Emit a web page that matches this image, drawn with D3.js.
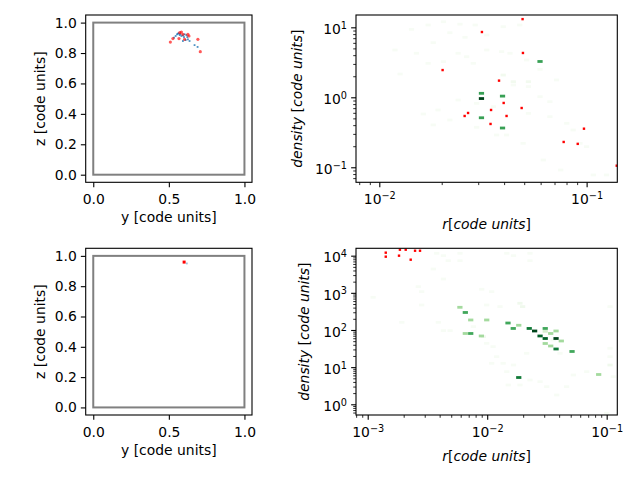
<!DOCTYPE html>
<html>
<head>
<meta charset="utf-8">
<script src="https://cdn.jsdelivr.net/npm/d3@7"></script>
<style>
  body { margin: 0; background: #fff; }
  svg { font-family: "DejaVu Sans", sans-serif; }
</style>
</head>
<body>
<svg width="640" height="480"></svg>
<script>
// ---- data ----

// top-left: projected positions (y, z)
const topBlue = [[0.545,0.912],[0.554,0.923],[0.560,0.927],[0.572,0.918],[0.583,0.912],[0.593,0.916],
  [0.604,0.923],[0.616,0.918],[0.622,0.905],[0.626,0.890],[0.637,0.879],[0.593,0.879],[0.611,0.885],
  [0.670,0.852],[0.534,0.901],[0.575,0.925],[0.565,0.930],[0.600,0.905],[0.690,0.840]];
const topRed = [[0.510,0.872],[0.527,0.895],[0.572,0.934],[0.583,0.938],[0.593,0.923],[0.567,0.895],
  [0.604,0.890],[0.626,0.923],[0.633,0.912],[0.692,0.890],[0.708,0.809]];

// bottom-left
const botBlue = [[0.619,0.950]];
const botRed = [[0.601,0.959]];

// top-right: histogram cells [r, density, count] and red points [r, density]
const topCells = [
  [0.0172,10.8,1],[0.0204,12.0,1],[0.0245,11.1,1],[0.0290,10.8,1],[0.0143,9.36,1],[0.0119,4.74,1],
  [0.0151,4.26,1],[0.0182,6.03,1],[0.0219,8.37,1],[0.0259,7.20,1],[0.0330,7.76,1],[0.0396,10.2,1],
  [0.0476,10.8,1],[0.0126,2.15,1],[0.0172,3.06,1],[0.0204,3.23,1],[0.0240,4.26,1],[0.0264,3.80,1],
  [0.0284,3.06,1],[0.0330,4.74,1],[0.0389,4.49,1],[0.0427,4.26,1],[0.0514,3.41,1],[0.0596,2.51,1],
  [0.0716,1.77,1],[0.0163,0.577,1],[0.0192,0.659,1],[0.0219,0.474,1],[0.0240,0.914,1],[0.0295,0.820,1],
  [0.0355,0.735,1],[0.0443,1.50,1],[0.0524,1.42,1],[0.0596,1.02,1],[0.0665,0.865,1],[0.0524,0.590,1],
  [0.0665,0.528,1],[0.0802,0.425,1],[0.0861,0.341,1],[0.0929,0.220,1],[0.1000,0.197,1],[0.1077,0.0777,1],
  [0.1247,0.0777,1],[0.0750,0.0914,1],[0.0618,0.127,1],[0.0494,0.220,1],[0.0411,0.289,1],[0.0368,0.289,1],
  [0.0295,0.373,1],[0.0182,0.403,1],[0.0443,1.67,1.3],[0.0524,1.67,1.3],[0.0396,2.08,1.3],
  [0.0311,1.14,7],[0.0311,0.51,7],[0.0393,1.04,7],[0.0393,0.364,7],[0.0596,3.25,7],[0.0311,0.96,10]
];
const topRedPts = [[0.0491,13.1],[0.03126,8.57],[0.0493,4.30],[0.0202,2.45],[0.0378,1.73],[0.0398,0.830],
  [0.0346,0.659],[0.0486,0.703],[0.0268,0.597],[0.0258,0.541],[0.0411,0.541],[0.0344,0.416],
  [0.0971,0.356],[0.0775,0.230],[0.0906,0.216],[0.1397,0.1054]];

// bottom-right
const botCells = [
  [0.00378,11600,1],[0.00430,10000,1],[0.00472,7330,1],[0.00592,11600,1],[0.00592,7330,1],[0.0146,11600,1],
  [0.0166,10000,1],[0.0228,11600,1],[0.0228,7330,1],[0.00354,4380,1],[0.00430,2360,1],[0.00265,1466,1],
  [0.00283,1075,1],[0.00283,471,1],[0.00193,161,1],[0.00390,161,1],[0.00111,759,1],[0.00430,95.9,1],
  [0.00489,95.9,1],[0.00900,1247,1],[0.0109,1075,1],[0.00990,471,1],[0.0128,425,1],[0.0188,524,1.5],
  [0.0198,425,1.5],[0.00766,123,1],[0.00990,43.8,1],[0.0112,35.6,1],[0.00927,66.1,1.5],[0.0120,19.1,1],
  [0.0136,12.7,1],[0.0166,11.4,1],[0.0109,12.7,1],[0.0146,7.55,1],[0.0150,3.31,1],[0.0188,3.31,1],
  [0.0228,4.51,1],[0.0277,4.06,1],[0.0315,2.98,1],[0.0382,1.78,1],[0.0462,2.98,1],[0.0526,6.15,1],
  [0.0681,7.55,1],[0.1067,425,1],[0.1067,32.2,1],[0.1067,19.1,1],[0.1067,11.4,1.5],[0.1135,5.53,1],
  [0.1000,0.573,1],[0.0214,23.6,1],[0.0357,53.8,1],[0.0407,23.6,1],
  [0.00591,408,5],[0.00656,296,8],[0.00728,186,5],[0.00991,186,5],[0.01493,154,8],[0.01837,134,5],
  [0.01652,110,8],[0.02249,110,10],[0.02494,94,12],[0.0306,92,3],[0.0306,110,8],[0.0340,80.5,5],
  [0.0377,94,5],[0.0277,69,11],[0.0306,59,11],[0.0377,59,12],[0.0417,50.6,5],[0.0306,43.3,5],
  [0.0340,37.1,5],[0.0377,30.8,10],[0.0513,26.4,8],[0.00656,80.5,5],[0.00728,80.5,8],[0.00894,69,5],
  [0.01837,5.26,10],[0.0857,6.34,5]
];
const botRedPts = [[0.001416,12050],[0.001416,9400],[0.001828,10000],[0.00186,14500],[0.00208,14500],
  [0.00229,7800],[0.00249,13600],[0.00274,13600]];

const linTicksX = [0, 0.5, 1];
const linTicksY = [0, 0.2, 0.4, 0.6, 0.8, 1.0];

// ---- drawing ----
const svg = d3.select("svg");
const FS = 13.9, TICK = 4.86, MINOR = 2.78;

function frame(g, w, h) {
  g.append("rect").attr("width", w).attr("height", h)
    .attr("fill", "none").attr("stroke", "#000").attr("stroke-width", 1.1);
}

function styleAxis(sel) {
  sel.select(".domain").remove();
  sel.selectAll(".tick line").attr("stroke", "#000").attr("stroke-width", 1.1);
  sel.selectAll(".tick text").attr("fill", "#000").attr("font-size", FS)
    .attr("font-family", "DejaVu Sans");
}

function linPanel(box, blue, red, redSolid, xlabY) {
  const w = box.x1 - box.x0, h = box.y1 - box.y0;
  const g = svg.append("g").attr("transform", `translate(${box.x0},${box.y0})`);
  const x = d3.scaleLinear().domain([-0.05, 1.05]).range([0, w]);
  const y = d3.scaleLinear().domain([-0.05, 1.05]).range([h, 0]);

  g.append("rect").attr("x", x(0)).attr("y", y(1))
    .attr("width", x(1) - x(0)).attr("height", y(0) - y(1))
    .attr("fill", "none").attr("stroke", "#808080").attr("stroke-width", 2);

  g.selectAll(".b").data(blue).enter().append("rect")
    .attr("x", d => x(d[0]) - 0.9).attr("y", d => y(d[1]) - 0.9)
    .attr("width", 1.8).attr("height", 1.8).attr("fill", "#1f77b4")
    .attr("opacity", redSolid ? 0.45 : 0.8);
  if (redSolid) {
    g.selectAll(".r").data(red).enter().append("rect")
      .attr("x", d => x(d[0]) - 1.5).attr("y", d => y(d[1]) - 1.5)
      .attr("width", 3).attr("height", 3).attr("fill", "#ff0000");
  } else {
    g.selectAll(".r").data(red).enter().append("circle")
      .attr("cx", d => x(d[0])).attr("cy", d => y(d[1])).attr("r", 1.6)
      .attr("fill", "#ff0000").attr("opacity", 0.65);
  }

  const ax = g.append("g").attr("transform", `translate(0,${h})`)
    .call(d3.axisBottom(x).tickValues(linTicksX).tickSize(TICK).tickPadding(7.3).tickFormat(d3.format(".1f")));
  styleAxis(ax);
  const ay = g.append("g")
    .call(d3.axisLeft(y).tickValues(linTicksY).tickSize(TICK).tickPadding(4.1).tickFormat(d3.format(".1f")));
  styleAxis(ay);
  frame(g, w, h);

  svg.append("text").attr("x", box.x0 + w / 2).attr("y", xlabY).attr("text-anchor", "middle")
    .attr("font-size", FS).text("y [code units]");
  svg.append("text").attr("transform", `translate(44.5,${box.y0 + h / 2}) rotate(-90)`)
    .attr("text-anchor", "middle").attr("font-size", FS).text("z [code units]");
}

function minorTicks(dom) {
  const out = [];
  const lo = Math.floor(Math.log10(dom[0])), hi = Math.ceil(Math.log10(dom[1]));
  for (let e = lo; e <= hi; e++)
    for (let k = 2; k <= 9; k++) {
      const v = k * Math.pow(10, e);
      if (v >= dom[0] && v <= dom[1]) out.push(v);
    }
  return out;
}

function powLabels(sel, dy) {
  sel.selectAll(".tick text").each(function(d) {
    const t = d3.select(this), e = Math.round(Math.log10(d));
    t.text(null).attr("dy", dy);
    t.append("tspan").text("10");
    t.append("tspan").attr("dy", "-0.55em").attr("font-size", FS * 0.7)
      .text(e < 0 ? "\u2212" + (-e) : String(e));
  });
}

function logPanel(box, xDom, yDom, xMaj, yMaj, cells, reds, cmax, ylabX, xlabY) {
  const w = box.x1 - box.x0, h = box.y1 - box.y0;
  const g = svg.append("g").attr("transform", `translate(${box.x0},${box.y0})`);
  const x = d3.scaleLog().domain(xDom).range([0, w]);
  const y = d3.scaleLog().domain(yDom).range([h, 0]);
  const color = d3.scaleSequential(d3.interpolateGreens).domain([1, cmax]);
  const bx = Math.log10(xDom[1] / xDom[0]) / 50, by = Math.log10(yDom[1] / yDom[0]) / 60;

  const clipId = "clip" + Math.round(box.y0);
  g.append("clipPath").attr("id", clipId).append("rect").attr("width", w).attr("height", h);
  const plot = g.append("g").attr("clip-path", `url(#${clipId})`);

  plot.selectAll(".cell").data(cells).enter().append("rect")
    .attr("x", d => x(d[0] * Math.pow(10, -bx / 2)))
    .attr("y", d => y(d[1] * Math.pow(10, by / 2)))
    .attr("width", d => x(d[0] * Math.pow(10, bx / 2)) - x(d[0] * Math.pow(10, -bx / 2)))
    .attr("height", d => y(d[1] * Math.pow(10, -by / 2)) - y(d[1] * Math.pow(10, by / 2)))
    .attr("fill", d => color(d[2]));

  plot.selectAll(".red").data(reds).enter().append("rect")
    .attr("x", d => x(d[0]) - 1.2).attr("y", d => y(d[1]) - 1.2)
    .attr("width", 2.4).attr("height", 2.4).attr("fill", "#ff0000");

  const ax = g.append("g").attr("transform", `translate(0,${h})`)
    .call(d3.axisBottom(x).tickValues(xMaj).tickSize(TICK).tickPadding(7.3));
  styleAxis(ax); powLabels(ax, "0.71em");
  const axm = g.append("g").attr("transform", `translate(0,${h})`)
    .call(d3.axisBottom(x).tickValues(minorTicks(xDom)).tickSize(MINOR).tickFormat(""));
  styleAxis(axm); axm.selectAll("line").attr("stroke-width", 0.83);

  const ay = g.append("g")
    .call(d3.axisLeft(y).tickValues(yMaj).tickSize(TICK).tickPadding(4.1));
  styleAxis(ay); powLabels(ay, "0.45em");
  const aym = g.append("g")
    .call(d3.axisLeft(y).tickValues(minorTicks(yDom)).tickSize(MINOR).tickFormat(""));
  styleAxis(aym); aym.selectAll("line").attr("stroke-width", 0.83);
  frame(g, w, h);

  const xl = svg.append("text").attr("x", box.x0 + w / 2).attr("y", xlabY)
    .attr("text-anchor", "middle").attr("font-size", FS);
  xl.append("tspan").attr("font-style", "italic").text("r");
  xl.append("tspan").text("[");
  xl.append("tspan").attr("font-style", "italic").text("code units");
  xl.append("tspan").text("]");

  const yl = svg.append("text").attr("transform", `translate(${ylabX},${box.y0 + h / 2}) rotate(-90)`)
    .attr("text-anchor", "middle").attr("font-size", FS);
  yl.append("tspan").attr("font-style", "italic").text("density");
  yl.append("tspan").text(" [");
  yl.append("tspan").attr("font-style", "italic").text("code units");
  yl.append("tspan").text("]");
}

linPanel({x0: 85.7, x1: 252, y0: 15, y1: 182.3}, topBlue, topRed, false, 222.3);
linPanel({x0: 85.7, x1: 252, y0: 248.3, y1: 415}, botBlue, botRed, true, 455);

logPanel({x0: 356, x1: 617.3, y0: 15, y1: 182.3}, [0.00772, 0.1406], [0.0610, 15.0],
  [0.01, 0.1], [0.1, 1, 10], topCells, topRedPts, 10, 301.5, 228.8);
logPanel({x0: 356, x1: 617.3, y0: 248.3, y1: 415}, [0.000798, 0.1227], [0.515, 15800],
  [0.001, 0.01, 0.1], [1, 10, 100, 1000, 10000], botCells, botRedPts, 12, 308.5, 460.5);
</script>
</body>
</html>
